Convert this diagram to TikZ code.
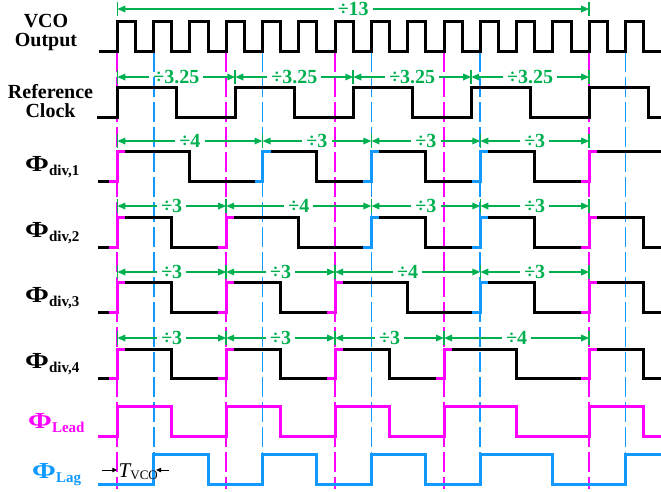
\documentclass[tikz,border=0pt]{standalone}
\usepackage{fontspec}
\usepackage{graphicx}
\setmainfont{Liberation Serif}
\usetikzlibrary{arrows.meta}
\definecolor{mag}{RGB}{255,0,255}
\definecolor{blu}{RGB}{17,153,255}
\definecolor{grn}{RGB}{0,176,80}
\def\Tper{36.3}
\def\tzero{117.3}
\newcommand\kx[1]{(\tzero+(#1)*\Tper)}
\newcommand\dv[5]{%
  \node[glab] (#1) at ({\tzero+((#3)+(#4))/2*\Tper},#2) {#5};
  \coordinate (#1l) at ({\kx{#3}},#2);
  \coordinate (#1r) at ({\kx{#4}},#2);
  \draw[gline,gtip] (#1.west) -- (#1l);
  \draw[gline,gtip] (#1.east) -- (#1r);
  \draw[gline] ([yshift=7pt]#1l) -- ([yshift=-7pt]#1l);
  \draw[gline] ([yshift=7pt]#1r) -- ([yshift=-7pt]#1r);
}
\newcommand\stub[4]{%
  \draw[wave,#1] ({\kx{#2}-8},#4) -- ({\kx{#2}},#4) -- ({\kx{#2}},#3) -- ({\kx{#2}+8},#3);
}
\newcommand\phil[1]{\scalebox{1.25}[1]{\fontsize{23}{23}\selectfont Φ}\raisebox{-4pt}{\fontsize{15}{15}\selectfont #1}}
\begin{document}
\begin{tikzpicture}[x=1pt,y=-1pt,
  wave/.style={line width=3pt, line join=miter},
  vdash/.style={line width=1.8pt, dash pattern=on 20pt off 5pt},
  gline/.style={draw=grn, line width=1.6pt},
  gtip/.style={-{Triangle[length=8pt,width=6.5pt]}},
  glab/.style={text=grn, font=\fontsize{20}{20}\selectfont\bfseries, inner xsep=4pt, inner ysep=0pt},
  lab/.style={font=\fontsize{20}{19}\selectfont\bfseries, align=center, inner sep=0pt},
  philab/.style={font=\bfseries, inner sep=0pt, anchor=base west},
  tarrow/.style={line width=1pt, -{Triangle[length=5pt,width=4.5pt]}}]
\useasboundingbox (0,0) rectangle (661,491);
% dashed reference lines
\foreach \k in {0,3,6,9,13} \draw[vdash,mag] ({\kx{\k}},52) -- ({\kx{\k}},489);
\foreach \k in {1,4,7,10,14} \draw[vdash,blu] ({\kx{\k}},52) -- ({\kx{\k}},454);
% labels
\node[lab] (vco) at (46,33) {VCO\\Output};
\node[lab] (ref) at (50.5,101) {Reference\\Clock};
\node[philab] (p1) at (25,171) {\phil{div,1}};
\node[philab] (p2) at (25,237) {\phil{div,2}};
\node[philab] (p3) at (25,302) {\phil{div,3}};
\node[philab] (p4) at (25,368) {\phil{div,4}};
\node[philab,text=mag] (pl) at (28,428) {\phil{Lead}};
\node[philab,text=blu] (pg) at (32,478) {\phil{Lag}};
% VCO
\draw[wave] (99,51) foreach \k in {0,...,14} { -- ({\kx{\k}},51) -- ({\kx{\k}},21) -- ({\kx{\k+0.5}},21) -- ({\kx{\k+0.5}},51) } -- (661,51);
% Reference clock
\draw[wave] (97,117) foreach \k in {0,3.25,6.5,9.75,13} { -- ({\kx{\k}},117) -- ({\kx{\k}},87) -- ({\kx{\k+1.625}},87) -- ({\kx{\k+1.625}},117) } -- (661,117);
% div 1
\draw[wave] (98,181) foreach \r/\f in {0/2,4/5.5,7/8.5,10/11.5} { -- ({\kx{\r}},181) -- ({\kx{\r}},151) -- ({\kx{\f}},151) -- ({\kx{\f}},181) } -- ({\kx{13}},181) -- ({\kx{13}},151) -- (661,151);
\stub{mag}{0}{151}{181}\stub{blu}{4}{151}{181}\stub{blu}{7}{151}{181}\stub{blu}{10}{151}{181}\stub{mag}{13}{151}{181}
% div 2
\draw[wave] (98,247) foreach \r/\f in {0/1.5,3/5,7/8.5,10/11.5,13/14.5} { -- ({\kx{\r}},247) -- ({\kx{\r}},217) -- ({\kx{\f}},217) -- ({\kx{\f}},247) } -- (661,247);
\stub{mag}{0}{217}{247}\stub{mag}{3}{217}{247}\stub{blu}{7}{217}{247}\stub{blu}{10}{217}{247}\stub{mag}{13}{217}{247}
% div 3
\draw[wave] (98,312) foreach \r/\f in {0/1.5,3/4.5,6/8,10/11.5,13/14.5} { -- ({\kx{\r}},312) -- ({\kx{\r}},282) -- ({\kx{\f}},282) -- ({\kx{\f}},312) } -- (661,312);
\stub{mag}{0}{282}{312}\stub{mag}{3}{282}{312}\stub{mag}{6}{282}{312}\stub{blu}{10}{282}{312}\stub{mag}{13}{282}{312}
% div 4
\draw[wave] (98,378) foreach \r/\f in {0/1.5,3/4.5,6/7.5,9/11,13/14.5} { -- ({\kx{\r}},378) -- ({\kx{\r}},349) -- ({\kx{\f}},349) -- ({\kx{\f}},378) } -- (661,378);
\stub{mag}{0}{349}{378}\stub{mag}{3}{349}{378}\stub{mag}{6}{349}{378}\stub{mag}{9}{349}{378}\stub{mag}{13}{349}{378}
% Lead
\draw[wave,mag] (98,436) foreach \r/\f in {0/1.5,3/4.5,6/7.5,9/11,13/14.5} { -- ({\kx{\r}},436) -- ({\kx{\r}},406) -- ({\kx{\f}},406) -- ({\kx{\f}},436) } -- (661,436);
% Lag
\draw[wave,blu] (98,484) foreach \r/\f in {1/2.5,4/5.5,7/8.5,10/12} { -- ({\kx{\r}},484) -- ({\kx{\r}},454) -- ({\kx{\f}},454) -- ({\kx{\f}},484) } -- ({\kx{14}},484) -- ({\kx{14}},454) -- (661,454);
% division arrows
\dv{a0}{9}{0}{13}{÷13}
\dv{r1}{77}{0}{3.25}{÷3.25}
\dv{r2}{77}{3.25}{6.5}{÷3.25}
\dv{r3}{77}{6.5}{9.75}{÷3.25}
\dv{r4}{77}{9.75}{13}{÷3.25}
\dv{ba}{141}{0}{4}{÷4}
\dv{bb}{141}{4}{7}{÷3}
\dv{bc}{141}{7}{10}{÷3}
\dv{bd}{141}{10}{13}{÷3}
\dv{ca}{206}{0}{3}{÷3}
\dv{cb}{206}{3}{7}{÷4}
\dv{cc}{206}{7}{10}{÷3}
\dv{cd}{206}{10}{13}{÷3}
\dv{da}{272}{0}{3}{÷3}
\dv{db}{272}{3}{6}{÷3}
\dv{dc}{272}{6}{10}{÷4}
\dv{dd}{272}{10}{13}{÷3}
\dv{ea}{338}{0}{3}{÷3}
\dv{eb}{338}{3}{6}{÷3}
\dv{ec}{338}{6}{9}{÷3}
\dv{ed}{338}{9}{13}{÷4}
% T_VCO
\node[anchor=base west, inner sep=0pt] (tv) at (118.5,477) {\fontsize{21}{21}\selectfont\itshape T\upshape\raisebox{-2pt}{\fontsize{13}{13}\selectfont VCO}};
\coordinate (tl0) at (102,470);
\coordinate (tl1) at ({\kx{0}},470);
\coordinate (tr0) at (169,470);
\coordinate (tr1) at ({\kx{1}+2.5},470);
\draw[tarrow] (tl0) -- (tl1);
\draw[tarrow] (tr0) -- (tr1);
\end{tikzpicture}
\end{document}
